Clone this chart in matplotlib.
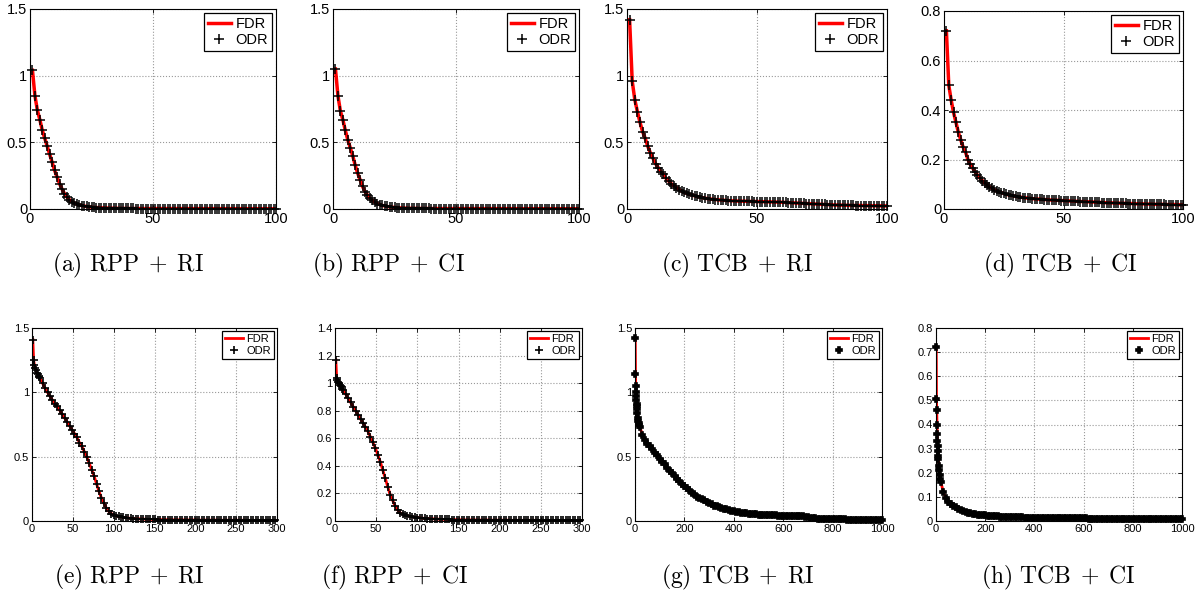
import matplotlib
matplotlib.use('Agg')
import matplotlib.pyplot as plt
import numpy as np
from matplotlib.ticker import FormatStrFormatter

plt.rcParams['font.family'] = ['Liberation Sans', 'DejaVu Sans']
plt.rcParams['mathtext.fontset'] = 'cm'

# ---- data ----
# top row: iterations 1..100
x_top = list(range(1, 101))

rpp_ri_top = [1.04, 0.85, 0.74, 0.67, 0.59, 0.53, 0.47, 0.41, 0.35, 0.29,
              0.24, 0.19, 0.15, 0.115, 0.09, 0.07, 0.055, 0.045, 0.037, 0.031,
              0.026, 0.022, 0.019, 0.016, 0.014, 0.012, 0.011, 0.010, 0.009, 0.008,
              0.0075, 0.007, 0.0065, 0.006, 0.0055, 0.005, 0.005, 0.0045, 0.0045, 0.004,
              0.004, 0.004, 0.0035, 0.0035, 0.0035, 0.003, 0.003, 0.003, 0.003, 0.003,
              0.003, 0.003, 0.003, 0.003, 0.003, 0.003, 0.003, 0.003, 0.003, 0.003,
              0.0028, 0.0028, 0.0028, 0.0028, 0.0028, 0.0027, 0.0027, 0.0027, 0.0027, 0.0027,
              0.0026, 0.0026, 0.0026, 0.0026, 0.0026, 0.0025, 0.0025, 0.0025, 0.0025, 0.0025,
              0.0024, 0.0024, 0.0024, 0.0024, 0.0024, 0.0023, 0.0023, 0.0023, 0.0023, 0.0023,
              0.0022, 0.0022, 0.0022, 0.0022, 0.0022, 0.0021, 0.0021, 0.0021, 0.002, 0.002]

rpp_ci_top = [1.05, 0.85, 0.735, 0.67, 0.59, 0.52, 0.46, 0.40, 0.33, 0.27,
              0.22, 0.17, 0.13, 0.105, 0.08, 0.065, 0.05, 0.04, 0.033, 0.027,
              0.023, 0.019, 0.016, 0.014, 0.012, 0.010, 0.009, 0.008, 0.007, 0.0065,
              0.006, 0.0055, 0.005, 0.005, 0.0045, 0.0045, 0.004, 0.004, 0.004, 0.0035,
              0.0035, 0.0035, 0.003, 0.003, 0.003, 0.003, 0.003, 0.003, 0.003, 0.003,
              0.0028, 0.0028, 0.0028, 0.0028, 0.0028, 0.0027, 0.0027, 0.0027, 0.0027, 0.0027,
              0.0026, 0.0026, 0.0026, 0.0026, 0.0026, 0.0025, 0.0025, 0.0025, 0.0025, 0.0025,
              0.0024, 0.0024, 0.0024, 0.0024, 0.0024, 0.0023, 0.0023, 0.0023, 0.0023, 0.0023,
              0.0022, 0.0022, 0.0022, 0.0022, 0.0022, 0.0021, 0.0021, 0.0021, 0.0021, 0.0021,
              0.002, 0.002, 0.002, 0.002, 0.002, 0.002, 0.002, 0.002, 0.002, 0.002]

tcb_ri_top = [1.42, 0.96, 0.82, 0.73, 0.65, 0.58, 0.53, 0.47, 0.42, 0.38,
              0.34, 0.31, 0.28, 0.26, 0.23, 0.21, 0.19, 0.175, 0.16, 0.145,
              0.135, 0.125, 0.117, 0.11, 0.105, 0.099, 0.094, 0.089, 0.085, 0.081,
              0.078, 0.075, 0.073, 0.071, 0.069, 0.067, 0.066, 0.064, 0.063, 0.062,
              0.061, 0.060, 0.059, 0.059, 0.058, 0.058, 0.057, 0.057, 0.056, 0.056,
              0.055, 0.055, 0.054, 0.054, 0.053, 0.053, 0.052, 0.052, 0.051, 0.050,
              0.049, 0.048, 0.047, 0.046, 0.045, 0.044, 0.043, 0.042, 0.041, 0.040,
              0.039, 0.038, 0.037, 0.036, 0.035, 0.034, 0.033, 0.032, 0.031, 0.030,
              0.030, 0.029, 0.029, 0.028, 0.028, 0.027, 0.027, 0.026, 0.026, 0.026,
              0.025, 0.025, 0.025, 0.024, 0.024, 0.024, 0.024, 0.023, 0.023, 0.023]

tcb_ci_top = [0.72, 0.50, 0.44, 0.39, 0.35, 0.31, 0.28, 0.25, 0.23, 0.20,
              0.18, 0.165, 0.15, 0.137, 0.125, 0.115, 0.105, 0.097, 0.09, 0.084,
              0.078, 0.073, 0.069, 0.066, 0.063, 0.060, 0.057, 0.055, 0.053, 0.051,
              0.049, 0.048, 0.046, 0.045, 0.044, 0.043, 0.042, 0.041, 0.040, 0.040,
              0.039, 0.038, 0.038, 0.037, 0.036, 0.036, 0.035, 0.035, 0.034, 0.034,
              0.033, 0.033, 0.032, 0.032, 0.031, 0.031, 0.030, 0.030, 0.030, 0.029,
              0.029, 0.028, 0.028, 0.027, 0.027, 0.026, 0.026, 0.025, 0.025, 0.025,
              0.024, 0.024, 0.024, 0.023, 0.023, 0.023, 0.022, 0.022, 0.022, 0.021,
              0.021, 0.021, 0.021, 0.020, 0.020, 0.020, 0.020, 0.019, 0.019, 0.019,
              0.019, 0.019, 0.018, 0.018, 0.018, 0.018, 0.018, 0.017, 0.017, 0.017]

# bottom row, RPP: iterations 1..10 then every 3rd up to 298
x_rpp = list(range(1, 11)) + list(range(13, 299, 3))

rpp_ri_bot = [1.41, 1.25, 1.21, 1.19, 1.17, 1.15, 1.14, 1.13, 1.12, 1.11,
              1.07, 1.03, 1.00, 0.97, 0.94, 0.91, 0.89, 0.86, 0.83, 0.80,
              0.77, 0.74, 0.71, 0.68, 0.65, 0.61, 0.58, 0.54, 0.50, 0.45,
              0.40, 0.35, 0.29, 0.23, 0.18, 0.14, 0.10, 0.075, 0.058, 0.047,
              0.040, 0.035, 0.031, 0.028, 0.025, 0.023, 0.021, 0.019, 0.018, 0.017,
              0.016, 0.015, 0.014, 0.013, 0.013, 0.012, 0.012, 0.011, 0.011, 0.010,
              0.010, 0.010, 0.010, 0.009, 0.009, 0.009, 0.009, 0.009, 0.008, 0.008,
              0.008, 0.008, 0.008, 0.008, 0.007, 0.007, 0.007, 0.007, 0.007, 0.007,
              0.007, 0.007, 0.006, 0.006, 0.006, 0.006, 0.006, 0.006, 0.006, 0.006,
              0.006, 0.006, 0.006, 0.005, 0.005, 0.005, 0.005, 0.005, 0.005, 0.005,
              0.005, 0.005, 0.005, 0.005, 0.005, 0.005]

rpp_ci_bot = [1.17, 1.04, 1.02, 1.01, 1.00, 0.99, 0.98, 0.97, 0.96, 0.95,
              0.92, 0.89, 0.86, 0.83, 0.80, 0.77, 0.74, 0.71, 0.68, 0.65,
              0.61, 0.57, 0.53, 0.48, 0.43, 0.37, 0.31, 0.25, 0.19, 0.15,
              0.11, 0.08, 0.06, 0.05, 0.043, 0.038, 0.034, 0.030, 0.027, 0.025,
              0.023, 0.021, 0.019, 0.018, 0.017, 0.016, 0.015, 0.014, 0.013, 0.012,
              0.012, 0.011, 0.011, 0.010, 0.010, 0.009, 0.009, 0.009, 0.008, 0.008,
              0.008, 0.008, 0.008, 0.007, 0.007, 0.007, 0.007, 0.007, 0.007, 0.006,
              0.006, 0.006, 0.006, 0.006, 0.006, 0.006, 0.006, 0.005, 0.005, 0.005,
              0.005, 0.005, 0.005, 0.005, 0.005, 0.005, 0.005, 0.005, 0.004, 0.004,
              0.004, 0.004, 0.004, 0.004, 0.004, 0.004, 0.004, 0.004, 0.004, 0.004,
              0.004, 0.004, 0.004, 0.004, 0.004, 0.004]

# bottom row, TCB: 1..10, 12..18 by 2, then every 10th up to 1000
x_tcb = list(range(1, 11)) + [12, 14, 16, 18] + list(range(20, 1001, 10))

tcb_ri_bot = [1.42, 1.14, 1.05, 1.00, 0.97, 0.94, 0.91, 0.89, 0.87, 0.84,
              0.80, 0.78, 0.76, 0.75,
              0.73, 0.67, 0.63, 0.60, 0.58, 0.56, 0.53, 0.51, 0.48,
              0.46, 0.44, 0.41, 0.39, 0.37, 0.35, 0.33, 0.31, 0.29, 0.27,
              0.26, 0.24, 0.22, 0.21, 0.19, 0.18, 0.17, 0.16, 0.15, 0.14,
              0.13, 0.12, 0.115, 0.108, 0.10, 0.095, 0.09, 0.085, 0.08, 0.076,
              0.072, 0.068, 0.065, 0.062, 0.060, 0.058, 0.056, 0.054, 0.052, 0.050,
              0.049, 0.048, 0.047, 0.046, 0.045, 0.044, 0.043, 0.042, 0.042, 0.041,
              0.041, 0.040, 0.040, 0.040, 0.039, 0.039, 0.038, 0.036, 0.033, 0.029,
              0.025, 0.022, 0.020, 0.019, 0.018, 0.017, 0.016, 0.015, 0.015, 0.014,
              0.014, 0.013, 0.013, 0.012, 0.012, 0.011, 0.011, 0.011, 0.010, 0.010,
              0.010, 0.009, 0.009, 0.009, 0.009, 0.008, 0.008, 0.008, 0.008, 0.008]

tcb_ci_bot = [0.72, 0.505, 0.46, 0.40, 0.36, 0.33, 0.31, 0.29, 0.27, 0.255,
              0.23, 0.21, 0.19, 0.175,
              0.16, 0.12, 0.095, 0.08, 0.07, 0.062, 0.056, 0.05, 0.045,
              0.041, 0.038, 0.035, 0.032, 0.030, 0.028, 0.026, 0.025, 0.024, 0.023,
              0.022, 0.021, 0.020, 0.019, 0.019, 0.018, 0.018, 0.017, 0.017, 0.016,
              0.016, 0.016, 0.015, 0.015, 0.015, 0.014, 0.014, 0.014, 0.014, 0.013,
              0.013, 0.013, 0.013, 0.013, 0.012, 0.012, 0.012, 0.012, 0.012, 0.012,
              0.012, 0.012, 0.011, 0.011, 0.011, 0.011, 0.011, 0.011, 0.011, 0.011,
              0.011, 0.010, 0.010, 0.010, 0.010, 0.010, 0.010, 0.010, 0.010, 0.010,
              0.010, 0.010, 0.010, 0.010, 0.009, 0.009, 0.009, 0.009, 0.009, 0.009,
              0.009, 0.009, 0.009, 0.009, 0.009, 0.009, 0.009, 0.009, 0.008, 0.008,
              0.008, 0.008, 0.008, 0.008, 0.008, 0.008, 0.008, 0.008, 0.008, 0.008]

captions = ['(a) RPP + RI', '(b) RPP + CI', '(c) TCB + RI', '(d) TCB + CI',
            '(e) RPP + RI', '(f) RPP + CI', '(g) TCB + RI', '(h) TCB + CI']

# ---- figure ----
W, H = 1204, 601
fig = plt.figure(figsize=(W / 100, H / 100), dpi=100)


def box(x0, x1, y0, y1):
    # pixel box (top-left origin) -> figure fraction rect
    return [x0 / W, (H - y1) / H, (x1 - x0) / W, (y1 - y0) / H]


def panel(rect, x, y, xlim, xticks, ylim, yticks, fs, ms, marker, mew, lw):
    ax = fig.add_axes(rect)
    ax.plot(x, y, color='red', lw=lw, label='FDR', zorder=2)
    ax.plot(x, y, ls='none', marker=marker, color='black', ms=ms, mew=mew,
            label='ODR', clip_on=False, zorder=3)
    ax.set_xlim(*xlim)
    ax.set_ylim(*ylim)
    ax.set_xticks(xticks)
    ax.set_yticks(yticks)
    ax.yaxis.set_major_formatter(FormatStrFormatter('%g'))
    ax.grid(True, ls=':', color='#999999', lw=0.8)
    ax.tick_params(direction='in', top=True, right=True, length=3, width=0.6,
                   labelsize=fs, pad=2)
    for s in ax.spines.values():
        s.set_linewidth(0.8)
    leg = ax.legend(loc='upper right', fontsize=fs, fancybox=False, framealpha=1,
                    edgecolor='black', handlelength=1.6, handletextpad=0.3,
                    labelspacing=0.15, borderpad=0.25, borderaxespad=0.3)
    leg.get_frame().set_linewidth(0.9)
    return ax


top_y = [rpp_ri_top, rpp_ci_top, tcb_ri_top, tcb_ci_top]
top_boxes = [(30, 276, 9, 209), (333, 579, 9, 209), (627, 887, 9, 209), (944, 1183, 11, 209)]
top_ylims = [(0, 1.5), (0, 1.5), (0, 1.5), (0, 0.8)]
top_yticks = [[0, 0.5, 1, 1.5]] * 3 + [[0, 0.2, 0.4, 0.6, 0.8]]
for i in range(4):
    panel(box(*top_boxes[i]), x_top, top_y[i], (0, 100), [0, 50, 100],
          top_ylims[i], top_yticks[i], 10.5, 7.5, '+', 1.1, 2.5)

bot_x = [x_rpp, x_rpp, x_tcb, x_tcb]
bot_y = [rpp_ri_bot, rpp_ci_bot, tcb_ri_bot, tcb_ci_bot]
bot_boxes = [(32, 277, 328, 521), (335, 582, 328, 521), (635, 882, 328, 521), (936, 1182, 328, 521)]
bot_xlims = [(0, 300), (0, 300), (0, 1000), (0, 1000)]
bot_xticks = [list(range(0, 301, 50))] * 2 + [list(range(0, 1001, 200))] * 2
bot_ylims = [(0, 1.5), (0, 1.4), (0, 1.5), (0, 0.8)]
bot_yticks = [[0, 0.5, 1, 1.5], [0, 0.2, 0.4, 0.6, 0.8, 1, 1.2, 1.4],
              [0, 0.5, 1, 1.5], [0, 0.1, 0.2, 0.3, 0.4, 0.5, 0.6, 0.7, 0.8]]
bot_markers = ['+', '+', 'P', 'P']
bot_ms = [6, 6, 4.8, 4.8]
for i in range(4):
    panel(box(*bot_boxes[i]), bot_x[i], bot_y[i], bot_xlims[i], bot_xticks[i],
          bot_ylims[i], bot_yticks[i], 8, bot_ms[i], bot_markers[i], 1.2, 2.0)

# captions
cap_x = [128, 388, 737, 1060, 129, 395, 738, 1058]
cap_y = [265, 265, 265, 265, 577, 577, 577, 577]
for c, cx, cy in zip(captions, cap_x, cap_y):
    left, right = c.split(' + ')
    lab, name = left.split(' ')
    s = r'$\mathrm{' + lab + r'\ ' + name + r'}\;+\;\mathrm{' + right + '}$'
    fig.text(cx / W, 1 - cy / H, s, ha='center', va='center', fontsize=17)

fig.savefig('out.png', dpi=100)
